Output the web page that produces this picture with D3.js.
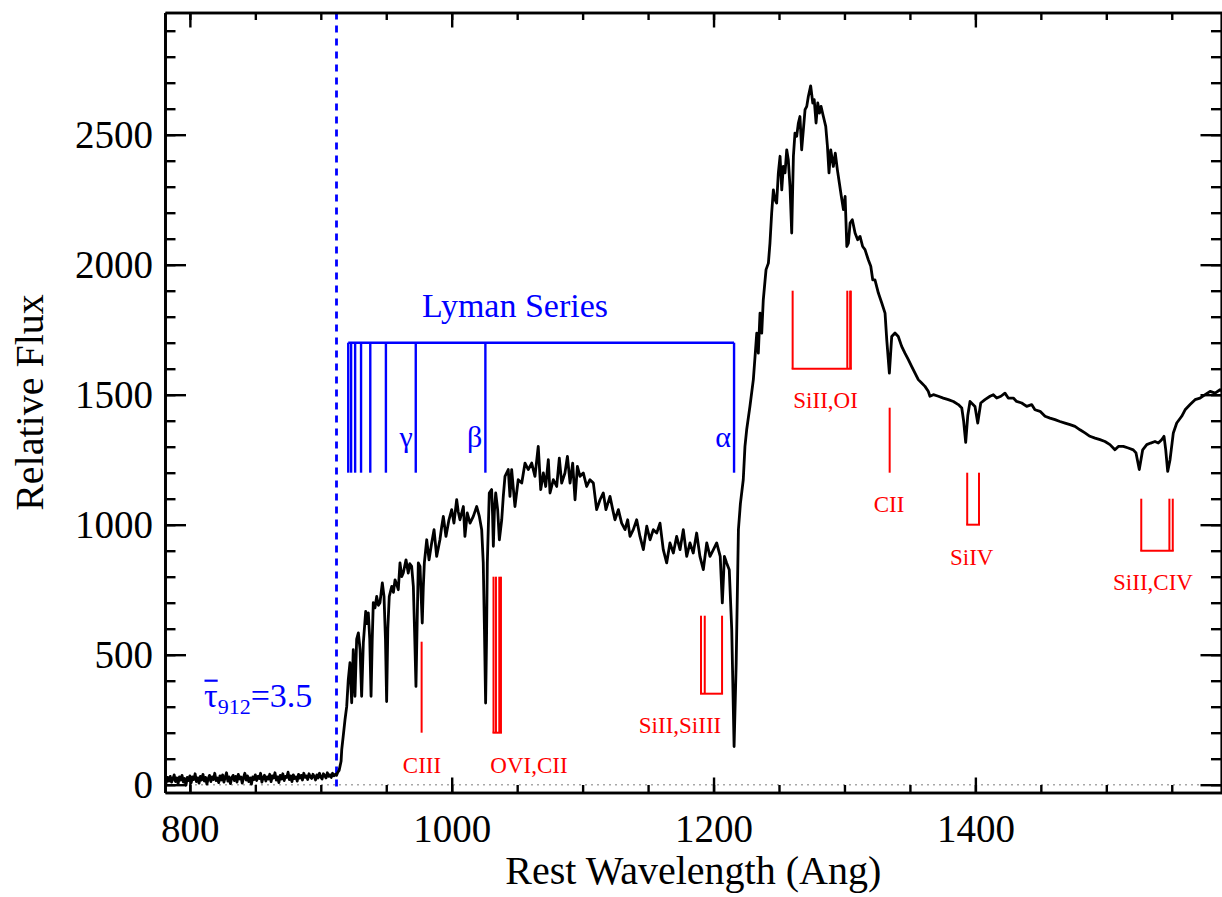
<!DOCTYPE html>
<html>
<head>
<meta charset="utf-8">
<script src="https://cdn.jsdelivr.net/npm/d3@7"></script>
<style>
  body { margin: 0; background: #fff; }
  svg { display: block; }
</style>
</head>
<body>
<svg id="chart" width="1222" height="897"></svg>
<script>
// Rest-frame spectrum: [wavelength (Ang), relative flux]
const spectrum = [
  [781,20],[782,8],[783,28],[784,14],[785,32],[786,10],[787,22],[788,38],[789,12],[790,26],
  [791,4],[792,30],[793,18],[794,36],[795,10],[796,24],[797,-2],[798,28],[799,16],[800,34],
  [801,8],[802,30],[803,20],[804,42],[805,12],[806,26],[807,6],[808,32],[809,18],[810,40],
  [811,14],[812,28],[813,2],[814,24],[815,36],[816,12],[817,30],[818,20],[819,44],[820,16],
  [821,26],[822,8],[823,34],[824,18],[825,38],[826,10],[827,28],[828,46],[829,14],[830,30],
  [831,4],[832,26],[833,36],[834,16],[835,32],[836,10],[837,40],[838,22],[839,30],[840,6],
  [841,28],[842,44],[843,18],[844,34],[845,12],[846,26],[847,2],[848,30],[849,20],[850,38],
  [851,16],[852,32],[853,24],[854,44],[855,10],[856,28],[857,36],[858,14],[859,30],[860,22],
  [861,40],[862,12],[863,34],[864,26],[865,46],[866,18],[867,30],[868,8],[869,36],[870,22],
  [871,42],[872,16],[873,32],[874,28],[875,48],[876,20],[877,34],[878,12],[879,38],[880,24],
  [881,30],[882,14],[883,40],[884,26],[885,36],[886,18],[887,44],[888,28],[889,34],[890,20],
  [891,42],[892,30],[893,24],[894,40],[895,32],[896,18],[897,38],[898,26],[899,44],[900,30],
  [901,22],[902,42],[903,34],[904,26],[905,46],[906,32],[907,38],[908,28],[909,44],[910,34],
  [911,40],[912,36],[913,48],[914,55],
  [915.5,90],[916.0,135],[917.2,190],[918.5,250],[919.8,301],[921.0,404],[922.3,469],[923.6,315],
  [924.8,519],[926.1,340],[927.4,560],[928.7,584],[930.0,520],[931.2,340],[932.5,546],[934.3,667],
  [935.3,620],[936.3,661],[937.4,560],[938.4,340],[939.3,560],[940.1,700],[941.4,680],[942.7,724],
  [944.0,690],[945.2,700],[947.0,776],[948.3,724],[949.4,560],[950.3,320],[951.2,600],[952.3,724],
  [954.2,763],[955.5,740],[956.7,788],[958.0,770],[959.2,750],[960.5,853],[961.8,800],[963.0,814],
  [965.1,865],[966.8,814],[968.0,850],[969.4,840],[970.7,763],[971.8,560],[972.7,378],[973.6,620],
  [974.5,853],[975.8,840],[976.7,720],[977.5,622],[978.3,760],[979.1,853],[980.9,942],[982.7,865],
  [984.7,930],[986.5,981],[988.5,878],[991.0,942],[992.3,990],[993.6,1032],[995.6,955],[997.9,1019],
  [1000.0,1058],[1001.7,1006],[1003.8,1096],[1005.0,1050],[1006.3,1019],[1008.9,1070],[1010.1,955],
  [1011.9,1045],[1014.0,1006],[1016.5,1032],[1019.1,1070],[1021.1,1032],[1022.9,981],[1024.1,853],
  [1025.0,600],[1025.9,314],[1026.6,560],[1027.2,853],[1028.7,1122],[1030.5,1135],[1031.2,1040],
  [1031.8,917],[1032.6,1050],[1033.6,1122],[1035.1,1058],[1036.4,942],[1037.3,980],[1038.2,1019],
  [1039.4,1109],[1040.7,1186],[1043.2,1212],[1044.5,1109],[1045.8,1212],[1048.3,1070],[1050.8,1173],
  [1053.5,1160],[1056.0,1237],[1058.5,1212],[1061.1,1237],[1063.6,1186],[1066.1,1301],[1068.0,1135],
  [1070.0,1199],[1071.8,1147],[1073.8,1250],[1075.1,1122],[1077.6,1173],[1080.2,1147],[1082.2,1256],
  [1084.0,1160],[1086.5,1199],[1088.4,1263],[1090.4,1160],[1092.4,1237],[1094.2,1096],[1096.0,1224],
  [1098.0,1186],[1100.5,1199],[1103.1,1147],[1105.6,1173],[1108.2,1160],[1110.7,1058],[1113.3,1096],
  [1115.8,1122],[1117.8,1058],[1120.9,1109],[1123.0,1058],[1124.7,1019],[1127.3,1058],[1129.8,1006],
  [1132.4,981],[1134.4,1019],[1136.2,955],[1138.7,981],[1141.3,1019],[1143.8,955],[1146.4,904],
  [1149.0,994],[1151.5,942],[1154.0,981],[1156.6,968],[1159.1,1006],[1161.6,904],[1164.2,853],
  [1166.7,930],[1169.3,891],[1171.8,955],[1174.4,904],[1176.9,981],[1179.5,878],[1182.0,930],
  [1184.5,891],[1187.1,968],[1189.6,878],[1192.2,827],[1194.8,930],[1197.3,878],[1199.9,904],
  [1202.4,930],[1205.1,878],[1206.7,699],[1208.3,878],[1210.0,853],[1212.0,827],[1213.9,596],
  [1215.7,147],[1217.3,468],[1219.0,981],[1220.5,1080],[1222.7,1173],[1224.0,1301],[1225.3,1365],
  [1227.8,1455],[1230.4,1558],[1231.7,1647],[1233.0,1737],[1234.2,1660],[1235.5,1814],[1236.8,1737],
  [1238.0,1865],[1240.1,1981],[1241.9,2006],[1243.1,2083],[1244.4,2199],[1245.7,2288],[1246.9,2250],
  [1248.2,2237],[1249.5,2353],[1250.8,2417],[1252.1,2288],[1253.3,2378],[1254.6,2353],[1255.9,2442],
  [1257.1,2404],[1258.4,2301],[1259.7,2122],[1261.0,2417],[1262.2,2506],[1263.5,2494],[1264.8,2545],
  [1266.0,2570],[1267.3,2442],[1268.6,2519],[1269.9,2596],[1271.2,2609],[1272.4,2647],[1274.2,2688],
  [1275.8,2622],[1276.9,2635],[1278.3,2545],[1279.6,2622],[1280.9,2583],[1282.1,2609],[1283.9,2570],
  [1285.7,2532],[1287.0,2455],[1288.2,2353],[1289.5,2442],[1291.5,2378],[1293.0,2429],[1294.6,2365],
  [1296.1,2314],[1297.6,2263],[1299.2,2212],[1300.5,2263],[1301.8,2070],[1303.0,2083],[1304.3,2160],
  [1306.0,2173],[1308.1,2122],[1310.1,2096],[1311.9,2109],[1313.9,2070],[1315.7,2058],[1318.2,2019],
  [1320.1,1994],[1321.6,1942],[1323.3,1942],[1325.9,1891],[1328.5,1853],[1331.0,1814],[1332.3,1712],
  [1334.3,1583],[1336.1,1724],[1338.6,1737],[1341.1,1724],[1343.7,1686],[1346.2,1660],[1348.8,1635],
  [1351.3,1609],[1353.9,1583],[1356.4,1558],[1359.0,1545],[1361.5,1532],[1364.0,1513],[1365.3,1494],
  [1367.9,1500],[1371.7,1494],[1375.5,1487],[1379.3,1481],[1383.2,1474],[1387.0,1462],[1389.6,1449],
  [1391.0,1400],[1392.6,1317],[1394.2,1420],[1395.9,1474],[1399.7,1455],[1401.8,1391],[1404.1,1468],
  [1407.3,1481],[1411.2,1494],[1413.7,1500],[1416.3,1487],[1419.5,1494],[1422.6,1506],[1425.1,1487],
  [1429.0,1487],[1431.5,1474],[1435.4,1468],[1439.2,1455],[1443.0,1462],[1445.5,1442],[1449.4,1436],
  [1453.2,1417],[1457.0,1410],[1460.8,1404],[1464.6,1397],[1468.5,1391],[1472.3,1385],[1476.1,1378],
  [1479.9,1365],[1483.7,1353],[1487.5,1340],[1491.4,1333],[1495.2,1327],[1499.0,1320],[1502.8,1308],
  [1506.6,1288],[1509.2,1301],[1513.0,1301],[1516.8,1295],[1520.6,1288],[1522.7,1276],[1525.2,1212],
  [1527.8,1288],[1530.9,1308],[1533.9,1314],[1537.2,1320],[1539.7,1314],[1542.3,1327],[1544.1,1340],
  [1545.4,1288],[1546.9,1205],[1548.7,1250],[1551.2,1353],[1553.8,1391],[1557.6,1417],[1560.2,1442],
  [1564.0,1462],[1567.8,1481],[1571.6,1487],[1575.5,1500],[1579.3,1513],[1583.1,1506],[1586.9,1519],
  [1588,1516]
];

// Lyman series transitions (Ang) and the flux span of the comb
const lymanLines = [1215.67, 1025.72, 972.54, 949.74, 937.80, 930.75, 926.23, 923.15, 920.96];
const lymanGreek = [["α", 1215.67], ["β", 1025.72], ["γ", 972.54]];
const lymanTop = 1700, lymanBottom = 1200;

// Metal absorption features: name, line wavelengths, flux span of the marker
const metalNames = ["CIII", "OVI,CII", "SiII,SiIII", "SiII,OI", "CII", "SiIV", "SiII,CIV"];
const metalWaves = [
  [977.02],
  [1031.93, 1033.8, 1036.34, 1037.62],
  [1190.42, 1193.29, 1206.5],
  [1260.42, 1302.17, 1304.37, 1304.86],
  [1334.53],
  [1393.76, 1402.77],
  [1526.71, 1548.2, 1550.77]
];
const metalLow  = [200, 200, 350, 1600, 1200, 1000, 900];
const metalHigh = [550, 800, 650, 1900, 1450, 1200, 1100];
// where each feature name sits (wavelength of text centre, flux of baseline)
const metalLabelWave = [977.3, 1059.0, 1174.4, 1285.6, 1334.0, 1397.2, 1535.7];
const metalLabelFlux = [46, 46, 200, 1450, 1050, 846, 750];

const lymanLimit = 912;
const xTicksMajor = [800, 1000, 1200, 1400];
const xTicksMinor = d3.range(800, 1588, 50);
const yTicksMajor = [0, 500, 1000, 1500, 2000, 2500];
const yTicksMinor = d3.range(0, 2970, 100);

// ---- layout ----
const L = 165, R = 1221.5, T = 12.5, B = 792.5;
const svg = d3.select("#chart");
const serif = "'Liberation Serif', 'Times New Roman', Times, serif";
const BLUE = "#0000ff", RED = "#ff0000";

const x = d3.scaleLinear().domain([781, 1588]).range([L, R]);
const y = d3.scaleLinear().domain([-30, 2970]).range([B, T]);

svg.append("defs").append("clipPath").attr("id", "plotClip")
  .append("rect").attr("x", L).attr("y", T).attr("width", R - L).attr("height", B - T);

const plot = svg.append("g").attr("clip-path", "url(#plotClip)");

// zero-flux reference
plot.append("line")
  .attr("x1", L).attr("x2", R).attr("y1", y(0)).attr("y2", y(0))
  .attr("stroke", "#a8a8a8").attr("stroke-width", 1.6).attr("stroke-dasharray", "2,4");

// Lyman limit
plot.append("line")
  .attr("x1", x(lymanLimit)).attr("x2", x(lymanLimit)).attr("y1", T).attr("y2", B)
  .attr("stroke", BLUE).attr("stroke-width", 2.8).attr("stroke-dasharray", "7,6");

// spectrum
plot.append("path").datum(spectrum)
  .attr("fill", "none").attr("stroke", "#000").attr("stroke-width", 2.8)
  .attr("stroke-linejoin", "round")
  .attr("d", d3.line().x(d => x(d[0])).y(d => y(d[1])));

// Lyman series comb
const lyG = svg.append("g").attr("stroke", BLUE).attr("stroke-width", 2.4);
lyG.append("line")
  .attr("x1", x(d3.min(lymanLines))).attr("x2", x(d3.max(lymanLines)))
  .attr("y1", y(lymanTop)).attr("y2", y(lymanTop));
lyG.selectAll("line.tooth").data(lymanLines).join("line").attr("class", "tooth")
  .attr("x1", d => x(d)).attr("x2", d => x(d))
  .attr("y1", y(lymanTop)).attr("y2", y(lymanBottom));

svg.selectAll("text.greek").data(lymanGreek).join("text").attr("class", "greek")
  .attr("x", d => x(d[1]) - 3).attr("y", y(1300))
  .attr("text-anchor", "end").attr("fill", BLUE)
  .attr("font-family", serif).attr("font-size", 30)
  .text(d => d[0]);

svg.append("text")
  .attr("x", x(977.3)).attr("y", y(1800))
  .attr("fill", BLUE).attr("font-family", serif).attr("font-size", 34)
  .text("Lyman Series");

// metal-line markers
metalNames.forEach((name, i) => {
  const g = svg.append("g").attr("stroke", RED).attr("stroke-width", 2).attr("fill", "none");
  const waves = metalWaves[i];
  g.selectAll("line").data(waves).join("line")
    .attr("x1", d => x(d)).attr("x2", d => x(d))
    .attr("y1", y(metalHigh[i])).attr("y2", y(metalLow[i]));
  if (waves.length > 1) {
    g.append("line")
      .attr("x1", x(d3.min(waves)) - 1).attr("x2", x(d3.max(waves)) + 1)
      .attr("y1", y(metalLow[i])).attr("y2", y(metalLow[i]));
  }
  svg.append("text")
    .attr("x", x(metalLabelWave[i])).attr("y", y(metalLabelFlux[i]))
    .attr("text-anchor", "middle").attr("fill", RED)
    .attr("font-family", serif).attr("font-size", 23)
    .text(name);
});

// mean optical depth at the Lyman limit
const tauX = x(810.8), tauY = y(300);
const tau = svg.append("text")
  .attr("x", tauX).attr("y", tauY)
  .attr("fill", BLUE).attr("font-family", serif).attr("font-size", 34);
tau.append("tspan").text("τ");
tau.append("tspan").attr("font-size", 22).attr("dy", 7).text("912");
tau.append("tspan").attr("dy", -7).text("=3.5");
const tauW = tau.node().getSubStringLength(0, 1);
svg.append("line")
  .attr("x1", tauX + 0.5).attr("x2", tauX + tauW)
  .attr("y1", tauY - 26).attr("y2", tauY - 26)
  .attr("stroke", BLUE).attr("stroke-width", 2.2);

// ---- axes (ticks pointing inward on all four sides) ----
function styleAxis(g) {
  g.select(".domain").attr("stroke", "#000").attr("stroke-width", 2.7);
  g.selectAll(".tick line").attr("stroke", "#000").attr("stroke-width", 2.4);
  g.selectAll(".tick text").attr("font-family", serif).attr("font-size", 39).attr("fill", "#000");
}
const xMaj = 15, xMin = 7.5, yMaj = 21, yMin = 10.5;

svg.append("g").attr("transform", `translate(0,${B})`)
  .call(d3.axisBottom(x).tickValues(xTicksMinor).tickSize(-xMin).tickSizeOuter(0).tickFormat(""))
  .call(styleAxis);
svg.append("g").attr("transform", `translate(0,${B})`)
  .call(d3.axisBottom(x).tickValues(xTicksMajor).tickSize(-xMaj).tickSizeOuter(0).tickPadding(22).tickFormat(d3.format("d")))
  .call(styleAxis);
svg.append("g").attr("transform", `translate(0,${T})`)
  .call(d3.axisTop(x).tickValues(xTicksMinor).tickSize(-xMin).tickSizeOuter(0).tickFormat(""))
  .call(styleAxis);
svg.append("g").attr("transform", `translate(0,${T})`)
  .call(d3.axisTop(x).tickValues(xTicksMajor).tickSize(-xMaj).tickSizeOuter(0).tickFormat(""))
  .call(styleAxis);

svg.append("g").attr("transform", `translate(${L},0)`)
  .call(d3.axisLeft(y).tickValues(yTicksMinor).tickSize(-yMin).tickSizeOuter(0).tickFormat(""))
  .call(styleAxis);
svg.append("g").attr("transform", `translate(${L},0)`)
  .call(d3.axisLeft(y).tickValues(yTicksMajor).tickSize(-yMaj).tickSizeOuter(0).tickPadding(12).tickFormat(d3.format("d")))
  .call(styleAxis);
svg.append("g").attr("transform", `translate(${R},0)`)
  .call(d3.axisRight(y).tickValues(yTicksMinor).tickSize(-yMin).tickSizeOuter(0).tickFormat(""))
  .call(styleAxis);
svg.append("g").attr("transform", `translate(${R},0)`)
  .call(d3.axisRight(y).tickValues(yTicksMajor).tickSize(-yMaj).tickSizeOuter(0).tickFormat(""))
  .call(styleAxis);

// axis titles
svg.append("text")
  .attr("x", (L + R) / 2).attr("y", 884)
  .attr("text-anchor", "middle").attr("font-family", serif).attr("font-size", 40)
  .text("Rest Wavelength (Ang)");
svg.append("text")
  .attr("transform", `translate(43,${(T + B) / 2}) rotate(-90)`)
  .attr("text-anchor", "middle").attr("font-family", serif).attr("font-size", 40)
  .text("Relative Flux");
</script>
</body>
</html>
